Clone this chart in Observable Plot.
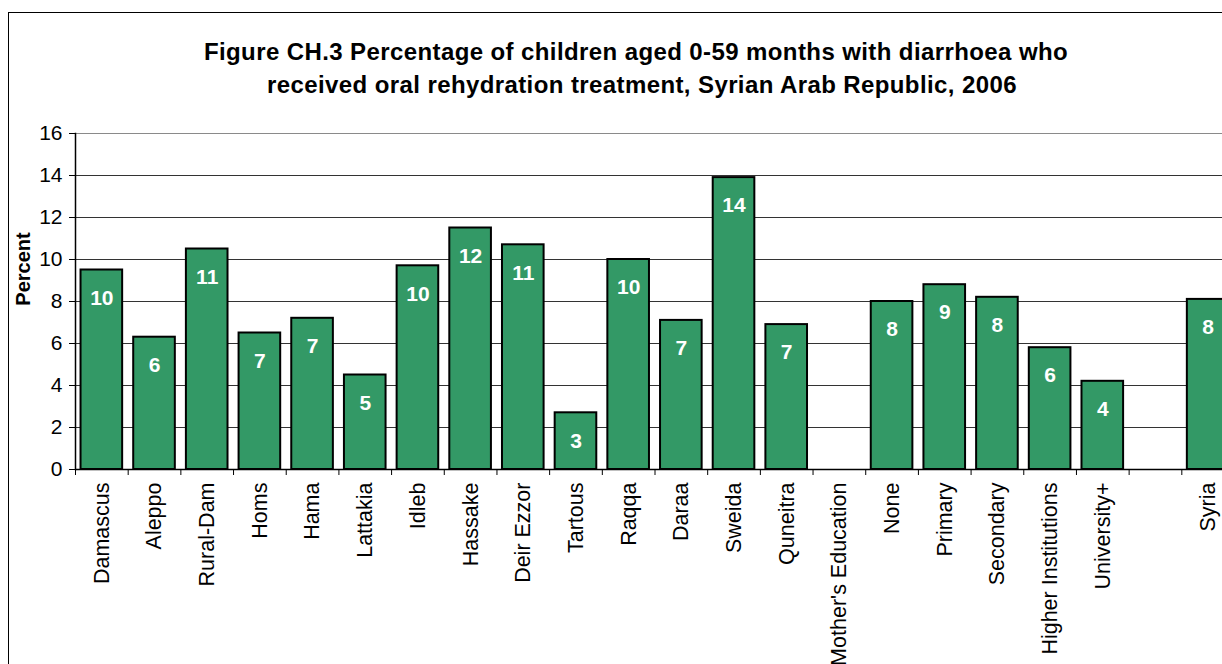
<!DOCTYPE html>
<html>
<head>
<meta charset="utf-8">
<script src="https://cdn.jsdelivr.net/npm/d3@7"></script>
<script src="https://cdn.jsdelivr.net/npm/@observablehq/plot@0.6"></script>
<style>
  html, body { margin: 0; padding: 0; background: #fff; overflow: hidden; }
  #wrap { position: relative; width: 1222px; height: 664px; overflow: hidden; font-family: "Liberation Sans", Arial, sans-serif; }
  #border { position: absolute; left: 8px; top: 12px; width: 2000px; height: 2000px; border-left: 1.5px solid #000; border-top: 1.5px solid #000; }
  .title { position: absolute; left: 0; width: 1272px; text-align: center; font-weight: bold; font-size: 24px; line-height: 24px; color: #000; white-space: nowrap; letter-spacing: 0.4px; }
  #ylabel { position: absolute; left: 23px; top: 269px; transform: translate(-50%, -50%) rotate(-90deg); font-weight: bold; font-size: 20px; white-space: nowrap; }
  #chart { position: absolute; left: 0; top: 123px; }
  #chart svg { max-width: none !important; }
</style>
</head>
<body>
<div id="wrap">
  <div id="border"></div>
  <div class="title" style="top:40px">Figure CH.3 Percentage of children aged 0-59 months with diarrhoea who</div>
  <div class="title" style="top:73px;left:6px">received oral rehydration treatment, Syrian Arab Republic, 2006</div>
  <div id="ylabel">Percent</div>
  <div id="chart"></div>
</div>
<script>
const categories = ["Damascus", "Aleppo", "Rural-Dam", "Homs", "Hama", "Lattakia", "Idleb", "Hassake", "Deir Ezzor", "Tartous", "Raqqa", "Daraa", "Sweida", "Quneitra", "Mother's Education", "None", "Primary", "Secondary", "Higher Institutions", "University+", " ", "Syria"];
const values = [9.5, 6.3, 10.5, 6.5, 7.2, 4.5, 9.7, 11.5, 10.7, 2.7, 10.0, 7.1, 13.9, 6.9, null, 8.0, 8.8, 8.2, 5.8, 4.2, null, 8.1];
const valueLabels = [10, 6, 11, 7, 7, 5, 10, 12, 11, 3, 10, 7, 14, 7, null, 8, 9, 8, 6, 4, null, 8];
const yTicks = [0, 2, 4, 6, 8, 10, 12, 14, 16];

const data = categories.map((c, i) => ({cat: c, value: values[i], label: valueLabels[i]}));
const bars = data.filter(d => d.value != null);

const W = 1250, ML = 75, MR = 16;
const step = (W - ML - MR) / categories.length;

const chart = Plot.plot({
  width: W,
  height: 546,
  marginLeft: ML,
  marginRight: MR,
  marginTop: 10,
  marginBottom: 200,
  style: {fontFamily: "'Liberation Sans', Arial, sans-serif", color: "#000", background: "transparent", overflow: "visible", maxWidth: "none"},
  x: {domain: categories, paddingInner: 0.21, paddingOuter: 0.105, round: false, axis: null},
  y: {domain: [0, 16], axis: null},
  marks: [
    Plot.gridY(yTicks.filter(d => d > 0), {stroke: d => d === 16 ? "#8a8a8a" : "#333", strokeOpacity: 1, strokeWidth: 1}),
    Plot.barY(bars, {x: "cat", y: "value", fill: "#339966", stroke: "#000", strokeWidth: 2}),
    Plot.text(bars, {x: "cat", y: "value", text: d => String(d.label), dy: 28, fill: "#fff", fontWeight: "bold", fontSize: 21}),
    Plot.ruleY([0], {stroke: "#000", strokeWidth: 1.5}),
    Plot.frame({anchor: "left", stroke: "#000", strokeWidth: 1.5}),
    Plot.axisY(yTicks, {tickSize: 6, tickPadding: 7, fontSize: 21, tickFormat: d => String(d), label: null, stroke: "#000"}),
    Plot.axisX({tickSize: 6, tickFormat: () => "", dx: -step / 2, label: null, stroke: "#000"}),
    Plot.axisX({tickSize: 0, tickPadding: 13, tickRotate: -90, fontSize: 21.5, label: null})
  ]
});
document.getElementById("chart").appendChild(chart);
</script>
</body>
</html>
